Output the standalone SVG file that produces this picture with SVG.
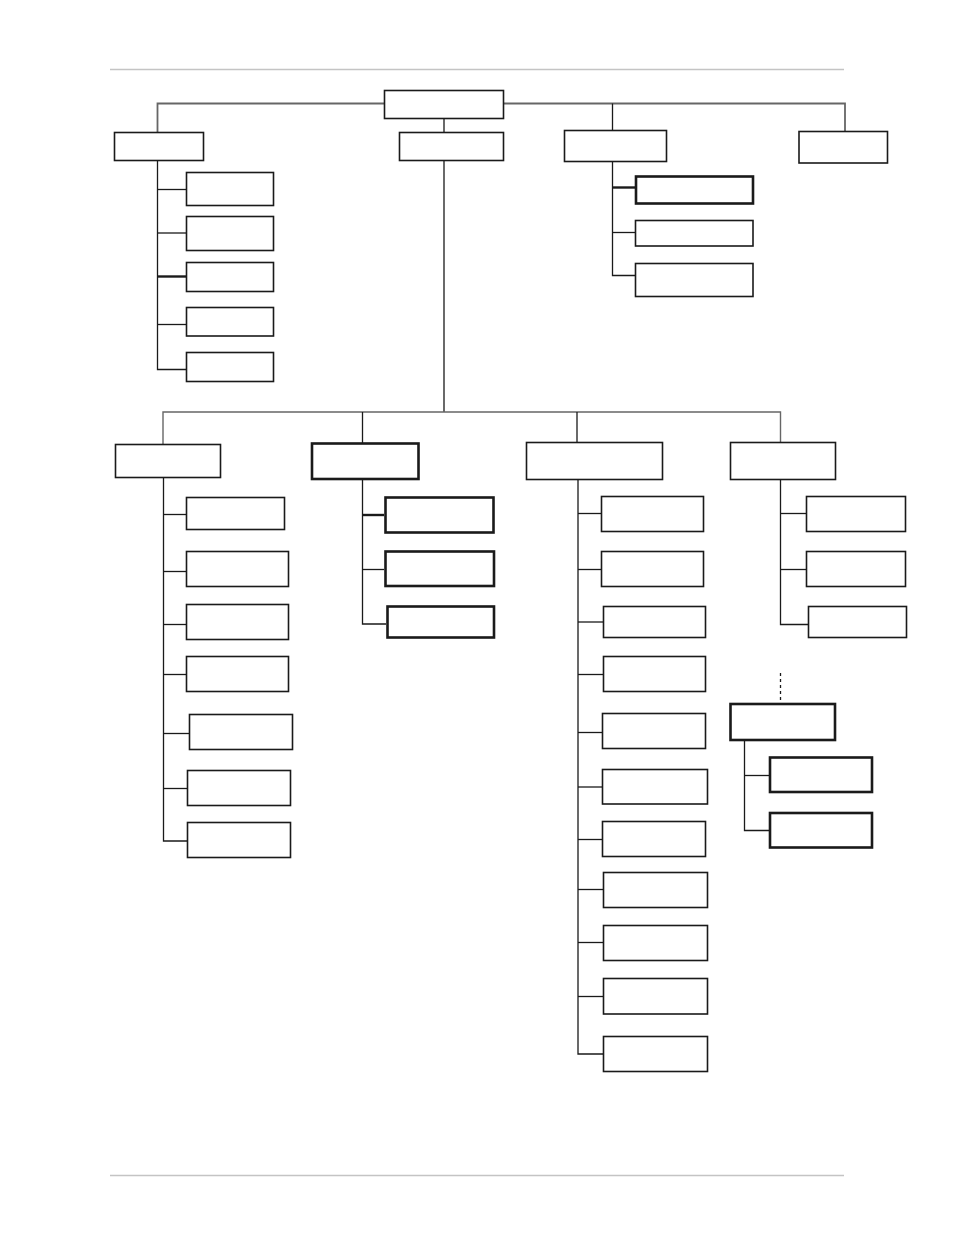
<svg xmlns="http://www.w3.org/2000/svg" width="954" height="1235" viewBox="0 0 954 1235">
<style>
.b{fill:#fff;stroke:#1a1a1a;stroke-width:1.6}
.t{fill:#fff;stroke:#1a1a1a;stroke-width:2.6}
.c{fill:none;stroke:#1a1a1a;stroke-width:1.3}
.g{fill:none;stroke:#666;stroke-width:1.8}
.h{fill:none;stroke:#c4c4c4;stroke-width:1.3}
.d{fill:none;stroke:#1a1a1a;stroke-width:1.3;stroke-dasharray:3,3}
</style>
<rect width="954" height="1235" fill="#fff"/>
<line class="h" x1="110" y1="69.5" x2="844" y2="69.5"/>
<line class="h" x1="110" y1="1175.5" x2="844" y2="1175.5"/>
<g id="connectors">
<polyline class="g" points="157.5,132 157.5,103.5 845,103.5 845,131"/>
<line class="c" x1="612.5" y1="103.5" x2="612.5" y2="130"/>
<line class="c" x1="444" y1="118" x2="444" y2="412"/>
<polyline class="c" points="157.5,160 157.5,369.5 186,369.5"/>
<line class="c" x1="157.5" y1="189.5" x2="186" y2="189.5"/>
<line class="c" x1="157.5" y1="233" x2="186" y2="233"/>
<line class="c" x1="157.5" y1="276.5" x2="186" y2="276.5" style="stroke-width:2.4"/>
<line class="c" x1="157.5" y1="324.5" x2="186" y2="324.5"/>
<polyline class="c" points="612.5,161 612.5,275.5 635,275.5"/>
<line class="c" x1="612.5" y1="187.5" x2="635" y2="187.5" style="stroke-width:2.4"/>
<line class="c" x1="612.5" y1="232.5" x2="635" y2="232.5"/>
<polyline class="g" points="163,444 163,412 780.5,412 780.5,442" style="stroke-width:1.4"/>
<line class="c" x1="362.5" y1="412" x2="362.5" y2="443"/>
<line class="c" x1="577" y1="412" x2="577" y2="442"/>
<polyline class="c" points="163.5,477 163.5,841 187,841"/>
<line class="c" x1="163.5" y1="514.5" x2="186" y2="514.5"/>
<line class="c" x1="163.5" y1="571.5" x2="186" y2="571.5"/>
<line class="c" x1="163.5" y1="624.5" x2="186" y2="624.5"/>
<line class="c" x1="163.5" y1="674.5" x2="186" y2="674.5"/>
<line class="c" x1="163.5" y1="733.5" x2="189" y2="733.5"/>
<line class="c" x1="163.5" y1="788.5" x2="187" y2="788.5"/>
<polyline class="c" points="362.5,479 362.5,624 386,624"/>
<line class="c" x1="362.5" y1="515" x2="384" y2="515" style="stroke-width:2.4"/>
<line class="c" x1="362.5" y1="569.5" x2="384" y2="569.5"/>
<polyline class="c" points="578,479 578,1054 603,1054"/>
<line class="c" x1="578" y1="513.5" x2="601" y2="513.5"/>
<line class="c" x1="578" y1="569.5" x2="601" y2="569.5"/>
<line class="c" x1="578" y1="622" x2="603" y2="622"/>
<line class="c" x1="578" y1="674.5" x2="603" y2="674.5"/>
<line class="c" x1="578" y1="732.5" x2="602" y2="732.5"/>
<line class="c" x1="578" y1="787" x2="602" y2="787"/>
<line class="c" x1="578" y1="839.5" x2="602" y2="839.5"/>
<line class="c" x1="578" y1="889.5" x2="603" y2="889.5"/>
<line class="c" x1="578" y1="942.5" x2="603" y2="942.5"/>
<line class="c" x1="578" y1="996.5" x2="603" y2="996.5"/>
<polyline class="c" points="780.5,479 780.5,624.5 808,624.5"/>
<line class="c" x1="780.5" y1="513.5" x2="806" y2="513.5"/>
<line class="c" x1="780.5" y1="569.5" x2="806" y2="569.5"/>
<line class="d" x1="780.5" y1="673" x2="780.5" y2="701"/>
<polyline class="c" points="744.5,740 744.5,830.5 769,830.5"/>
<line class="c" x1="744.5" y1="775.5" x2="769" y2="775.5"/>
</g>
<g id="root"><rect class="b" x="384.5" y="90.5" width="119" height="28"/></g>
<g id="nA"><rect class="b" x="114.5" y="132.5" width="89" height="28"/></g>
<g id="nB"><rect class="b" x="399.5" y="132.5" width="104" height="28"/></g>
<g id="nC"><rect class="b" x="564.5" y="130.5" width="102" height="31"/></g>
<g id="nD"><rect class="b" x="799" y="131.5" width="88.5" height="31.5"/></g>
<g id="nA1"><rect class="b" x="186.5" y="172.5" width="87" height="33"/></g>
<g id="nA2"><rect class="b" x="186.5" y="216.5" width="87" height="34"/></g>
<g id="nA3"><rect class="b" x="186.5" y="262.5" width="87" height="29"/></g>
<g id="nA4"><rect class="b" x="186.5" y="307.5" width="87" height="28.5"/></g>
<g id="nA5"><rect class="b" x="186.5" y="352.5" width="87" height="29"/></g>
<g id="nC1"><rect class="t" x="636" y="176.5" width="117" height="27"/></g>
<g id="nC2"><rect class="b" x="635.5" y="220.5" width="117.5" height="25.5"/></g>
<g id="nC3"><rect class="b" x="635.5" y="263.5" width="117.5" height="33"/></g>
<g id="nE"><rect class="b" x="115.5" y="444.5" width="105" height="33"/></g>
<g id="nF"><rect class="t" x="312" y="443.5" width="106.5" height="35.5"/></g>
<g id="nG"><rect class="b" x="526.5" y="442.5" width="136" height="37"/></g>
<g id="nH"><rect class="b" x="730.5" y="442.5" width="105" height="37"/></g>
<g id="nE1"><rect class="b" x="186.5" y="497.5" width="98" height="32"/></g>
<g id="nE2"><rect class="b" x="186.5" y="551.5" width="102" height="35"/></g>
<g id="nE3"><rect class="b" x="186.5" y="604.5" width="102" height="35"/></g>
<g id="nE4"><rect class="b" x="186.5" y="656.5" width="102" height="35"/></g>
<g id="nE5"><rect class="b" x="189.5" y="714.5" width="103" height="35"/></g>
<g id="nE6"><rect class="b" x="187.5" y="770.5" width="103" height="35"/></g>
<g id="nE7"><rect class="b" x="187.5" y="822.5" width="103" height="35"/></g>
<g id="nF1"><rect class="t" x="385.5" y="497.5" width="108" height="35"/></g>
<g id="nF2"><rect class="t" x="385.5" y="551.5" width="108.5" height="34.5"/></g>
<g id="nF3"><rect class="t" x="387.5" y="606.5" width="106.5" height="31"/></g>
<g id="nG1"><rect class="b" x="601.5" y="496.5" width="102" height="35"/></g>
<g id="nG2"><rect class="b" x="601.5" y="551.5" width="102" height="35"/></g>
<g id="nG3"><rect class="b" x="603.5" y="606.5" width="102" height="31"/></g>
<g id="nG4"><rect class="b" x="603.5" y="656.5" width="102" height="35"/></g>
<g id="nG5"><rect class="b" x="602.5" y="713.5" width="103" height="35"/></g>
<g id="nG6"><rect class="b" x="602.5" y="769.5" width="105" height="34.5"/></g>
<g id="nG7"><rect class="b" x="602.5" y="821.5" width="103" height="35"/></g>
<g id="nG8"><rect class="b" x="603.5" y="872.5" width="104" height="35"/></g>
<g id="nG9"><rect class="b" x="603.5" y="925.5" width="104" height="35"/></g>
<g id="nG10"><rect class="b" x="603.5" y="978.5" width="104" height="35.5"/></g>
<g id="nG11"><rect class="b" x="603.5" y="1036.5" width="104" height="35"/></g>
<g id="nH1"><rect class="b" x="806.5" y="496.5" width="99" height="35"/></g>
<g id="nH2"><rect class="b" x="806.5" y="551.5" width="99" height="35"/></g>
<g id="nH3"><rect class="b" x="808.5" y="606.5" width="98" height="31"/></g>
<g id="nI"><rect class="t" x="730.5" y="704" width="104.5" height="36"/></g>
<g id="nI1"><rect class="t" x="770" y="757.5" width="102" height="34.5"/></g>
<g id="nI2"><rect class="t" x="770" y="813" width="102" height="34.5"/></g>
</svg>
